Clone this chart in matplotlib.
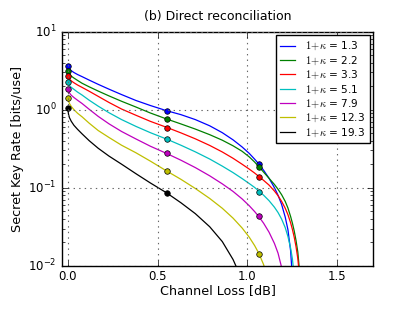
import matplotlib
matplotlib.use("Agg")
import matplotlib.pyplot as plt

# ---- data ----
labels = ["1.3", "2.2", "3.3", "5.1", "7.9", "12.3", "19.3"]
colors = ["b", "g", "r", "c", "m", "y", "k"]

loss_grid = [0, 0.005, 0.01, 0.02, 0.035, 0.055, 0.08, 0.12, 0.17, 0.23, 0.3, 0.38, 0.46,
             0.55, 0.63, 0.71, 0.79, 0.86, 0.92, 0.97, 1.01, 1.04, 1.064, 1.09, 1.12, 1.15,
             1.17, 1.19, 1.21, 1.225, 1.24, 1.25, 1.26, 1.27, 1.28, 1.29, 1.3]

rate_blue = [3.60, 3.43, 3.31, 3.16, 2.99, 2.82, 2.65, 2.39, 2.11, 1.83, 1.56, 1.31, 1.13,
             0.97, 0.863, 0.746, 0.621, 0.507, 0.410, 0.333, 0.275, 0.232, 0.200, 0.167, 0.132,
             0.100, 0.080, 0.061, 0.042, 0.029, 0.0155, 0.0069, 0.002]
rate_green = [3.10, 2.95, 2.85, 2.69, 2.54, 2.37, 2.18, 1.96, 1.73, 1.50, 1.28, 1.08, 0.906,
              0.76, 0.656, 0.564, 0.478, 0.406, 0.344, 0.293, 0.248, 0.213, 0.185, 0.158, 0.132,
              0.110, 0.0955, 0.0813, 0.0667, 0.055, 0.0427, 0.0351, 0.0279, 0.0211, 0.015,
              0.0084, 0.001]
rate_red = [2.70, 2.57, 2.48, 2.34, 2.21, 2.07, 1.93, 1.72, 1.48, 1.236, 1.018, 0.847, 0.708,
            0.594, 0.504, 0.423, 0.348, 0.287, 0.238, 0.200, 0.173, 0.154, 0.139, 0.124, 0.108,
            0.0906, 0.0789, 0.0668, 0.0546, 0.0452, 0.0355, 0.0292, 0.0232, 0.0176, 0.0124,
            0.0070, 0.001]
rate_cyan = [2.26, 2.14, 2.04, 1.93, 1.82, 1.68, 1.54, 1.32, 1.108, 0.913, 0.746, 0.610, 0.507,
             0.42, 0.350, 0.288, 0.233, 0.189, 0.156, 0.131, 0.113, 0.1007, 0.0902, 0.080, 0.0682,
             0.0562, 0.0481, 0.0396, 0.0308, 0.0237, 0.0168, 0.0122, 0.0073, 0.001]
rate_magenta = [1.83, 1.72, 1.64, 1.53, 1.43, 1.32, 1.20, 1.01, 0.820, 0.658, 0.525, 0.421, 0.340,
                0.275, 0.225, 0.181, 0.142, 0.112, 0.0895, 0.0719, 0.0587, 0.0494, 0.0424, 0.035,
                0.0269, 0.0193, 0.0145, 0.0095]
rate_yellow = [1.43, 1.29, 1.20, 1.10, 1.00, 0.90, 0.81, 0.67, 0.54, 0.44, 0.35, 0.28, 0.219,
               0.164, 0.128, 0.0977, 0.0728, 0.0545, 0.0407, 0.0305, 0.0232, 0.0181, 0.0143, 0.0103]
rate_black = [1.06, 0.87, 0.79, 0.71, 0.63, 0.56, 0.49, 0.40, 0.32, 0.254, 0.200, 0.151, 0.115,
              0.086, 0.0641, 0.0465, 0.0316, 0.0204, 0.0120, 0.0066]

# tail points beyond the common grid
tail_x_magenta = [1.20]
tail_y_magenta = [0.0068]
tail_x_yellow = [1.11]
tail_y_yellow = [0.0071]
tail_x_black = [1.0]
tail_y_black = [0.004]

# marker points (three loss values)
marker_x = [0.0, 0.55, 1.064]
marker_blue = [3.6, 0.97, 0.20]
marker_green = [3.1, 0.76, 0.183]
marker_red = [2.7, 0.59, 0.138]
marker_cyan = [2.26, 0.42, 0.088]
marker_magenta = [1.83, 0.28, 0.044]
marker_yellow = [1.43, 0.164, 0.014]
marker_black = [1.06, 0.086]

series = [
    (rate_blue, [], []),
    (rate_green, [], []),
    (rate_red, [], []),
    (rate_cyan, [], []),
    (rate_magenta, tail_x_magenta, tail_y_magenta),
    (rate_yellow, tail_x_yellow, tail_y_yellow),
    (rate_black, tail_x_black, tail_y_black),
]
markers = [marker_blue, marker_green, marker_red, marker_cyan, marker_magenta, marker_yellow, marker_black]

plt.style.use("classic")
plt.rcParams["figure.facecolor"] = "white"
plt.rcParams["savefig.facecolor"] = "white"

fig = plt.figure(figsize=(4.15, 3.13), dpi=100)
ax = fig.add_axes([0.150, 0.151, 0.7496, 0.748])

for (rate, tx, ty), m, c, lab in zip(series, markers, colors, labels):
    x = loss_grid[:len(rate)] + tx
    y = rate + ty
    ax.plot(x, y, color=c, lw=0.9, label=r"$1\!+\!\kappa$ = " + lab)
    ax.plot(marker_x[:len(m)], m, "o", color=c, ms=4.0, mec="k", mew=0.5)

ax.set_yscale("log")
ax.set_xlim(-0.03, 1.7)
ax.set_ylim(1e-2, 1e1)
ax.set_xticks([0.0, 0.5, 1.0, 1.5])
ax.grid(True, which="major", linestyle=":", color="0.4", lw=0.8)
ax.tick_params(labelsize=8.5)
ax.tick_params(axis="x", pad=3)
ax.tick_params(axis="y", pad=4)
ax.set_xlabel("Channel Loss [dB]", fontsize=9.2, labelpad=1)
ax.set_ylabel("Secret Key Rate [bits/use]", fontsize=9.2, labelpad=3)
ax.set_title("(b) Direct reconciliation", fontsize=9, y=1.02)
leg = ax.legend(loc="upper right", fontsize=7.6, handlelength=1.4, borderpad=0.45,
                labelspacing=0.18, numpoints=1, borderaxespad=0.35, handletextpad=0.9)
leg.get_frame().set_linewidth(1.0)

fig.savefig("out.png", dpi=100)
